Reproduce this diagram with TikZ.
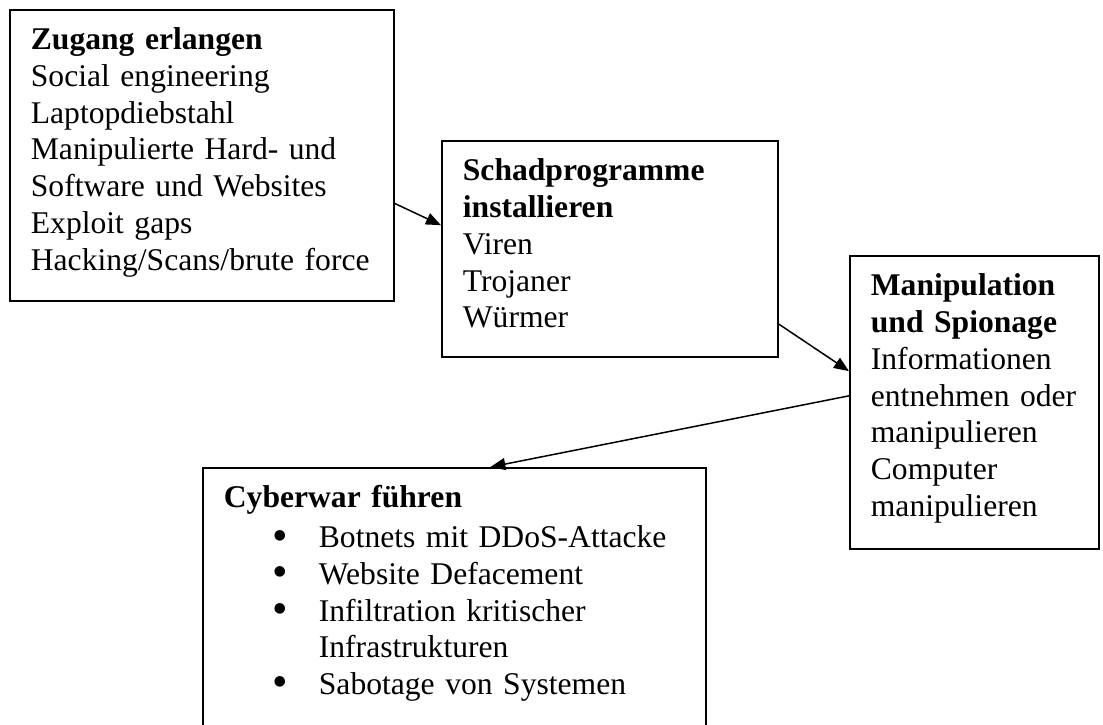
\documentclass[tikz,border=0pt]{standalone}
\usepackage{fontspec}
\setmainfont{Liberation Serif}
\usetikzlibrary{positioning, arrows.meta}

\newcommand{\listitem}{\hspace*{49pt}\makebox[46pt][l]{\raisebox{-0.08em}{\scalebox{1.4}{\textbullet}}}}

\begin{document}
\begin{tikzpicture}[
    x=1pt, y=-1pt,
    stage/.style={
        draw,
        line width=1.8pt,
        anchor=north west,
        align=left,
        inner xsep=0pt,
        inner ysep=0pt,
        text height=40pt, % first baseline below the top edge
        execute at begin node={\leftskip=21pt},
        font=\fontsize{31.6pt}{36.7pt}\selectfont
    },
    arrow/.style={
        -{Triangle[length=15pt, width=12pt]},
        line width=1.5pt
    }
]
\useasboundingbox (0,0) rectangle (1103,725);
\clip (0,0) rectangle (1103,725);

% Upper Row
\node (access) at (9,9) [stage, text width=384pt, text depth=251pt]
    {\textbf{Zugang erlangen}\\ Social engineering\\ Laptopdiebstahl\\
     Manipulierte Hard- und\\ Software und Websites\\ Exploit gaps\\
     Hacking/Scans/brute force};
\node (malware) at (441,140) [stage, text width=336pt, text depth=176pt]
    {\textbf{Schadprogramme}\\ \textbf{installieren}\\ Viren\\ Trojaner\\ Würmer};
\node (spy) at (849,255) [stage, text width=249pt, text depth=253pt]
    {\textbf{Manipulation}\\ \textbf{und Spionage}\\ Informationen\\
     entnehmen oder\\ manipulieren\\ Computer\\ manipulieren};

% Lower Box (runs past the bottom edge)
\node (cyberwar) at (202,467) [stage, text width=503pt, text depth=240pt]
    {\textbf{Cyberwar führen}\\[3pt]
     \listitem Botnets mit DDoS-Attacke\\
     \listitem Website Defacement\\
     \listitem Infiltration kritischer\\
     \hspace*{95pt}Infrastrukturen\\
     \listitem Sabotage von Systemen};

% Arrows
\draw [arrow] (access.-14.7) -- (malware.172.5);
\draw [arrow] (malware.-24) -- (spy.166.2);
\draw [arrow] (spy.177) -- ([xshift=36pt]cyberwar.north);

\end{tikzpicture}
\end{document}
